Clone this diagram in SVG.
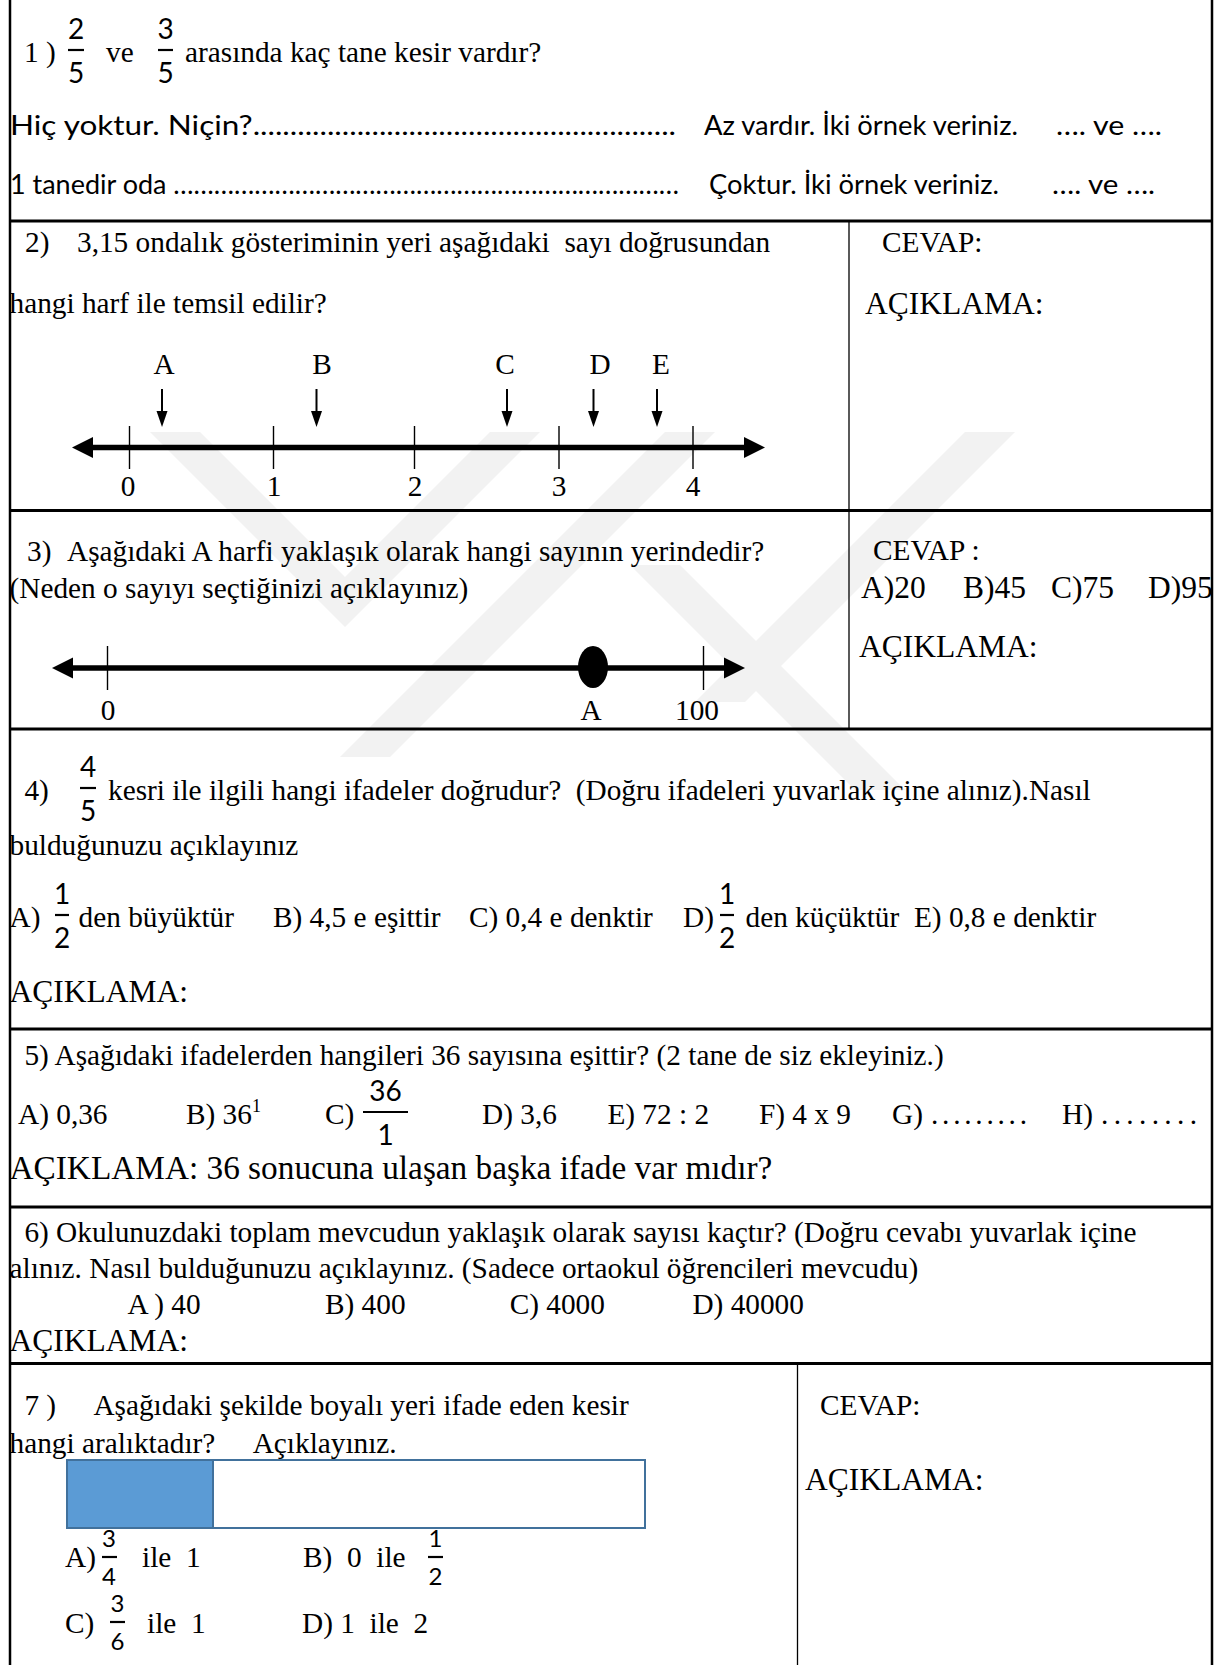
<svg xmlns="http://www.w3.org/2000/svg" width="1219" height="1665" viewBox="0 0 1219 1665" xml:space="preserve">
<style>
text{font-family:"Liberation Serif","Times New Roman",serif;font-size:29.3px;fill:#000;white-space:pre}
.big{font-size:31.5px}
.big2{font-size:33.3px}
.c{font-family:Lato,"Open Sans",sans-serif;font-size:27px}
.f{font-family:Lato,"Open Sans",sans-serif;font-size:28px;text-anchor:middle}
.fs{font-family:Lato,"Open Sans",sans-serif;font-size:24px;text-anchor:middle}
.m{text-anchor:middle}
.frame{stroke:#000;stroke-width:2.5;fill:none}
.sep{stroke:#000;stroke-width:3.2;fill:none}
.div{stroke:#000;stroke-width:1.3;fill:none}
.bar{stroke:#000;stroke-width:2.2}
.tick{stroke:#000;stroke-width:1.4}
.axis{stroke:#000;stroke-width:5.5}
.wm{fill:#f2f2f2}
</style>

<g id="watermark">
<polygon class="wm" points="150,432 200,432 345,577 490,432 540,432 345,627"/>
<polygon class="wm" points="665,432 715,432 390,757 340,757"/>
<polygon class="wm" points="965,432 1015,432 745,702 695,702"/>
<polygon class="wm" points="630,565 680,565 905,790 855,790"/>
</g>

<g id="table">
<line class="frame" x1="10" y1="0" x2="10" y2="1665"/>
<line class="frame" x1="1212" y1="0" x2="1212" y2="1665"/>
<line class="sep" x1="10" y1="221" x2="1212" y2="221"/>
<line class="sep" x1="10" y1="510.5" x2="1212" y2="510.5"/>
<line class="sep" x1="10" y1="729" x2="1212" y2="729"/>
<line class="sep" x1="10" y1="1029" x2="1212" y2="1029"/>
<line class="sep" x1="10" y1="1207" x2="1212" y2="1207"/>
<line class="sep" x1="10" y1="1363.5" x2="1212" y2="1363.5"/>
<line class="div" x1="849" y1="221" x2="849" y2="729"/>
<line class="div" x1="797.5" y1="1363.5" x2="797.5" y2="1665"/>
</g>

<g id="q1">
<text x="24" y="62">1 )</text>
<text class="f" x="76" y="39">2</text>
<line class="bar" x1="68" y1="50" x2="84" y2="50"/>
<text class="f" x="76" y="83">5</text>
<text x="106" y="62">ve</text>
<text class="f" x="165.5" y="39">3</text>
<line class="bar" x1="158" y1="50" x2="173" y2="50"/>
<text class="f" x="165.5" y="83">5</text>
<text x="185" y="62">arasında kaç tane kesir vardır?</text>
<text class="c" x="10" y="135" textLength="666" lengthAdjust="spacingAndGlyphs">Hiç yoktur. Niçin?.........................................................</text>
<text class="c" x="704" y="135" textLength="314" lengthAdjust="spacingAndGlyphs">Az vardır. İki örnek veriniz.</text>
<text class="c" x="1056" y="135" textLength="106" lengthAdjust="spacingAndGlyphs">…. ve ….</text>
<text class="c" x="10" y="194" textLength="669" lengthAdjust="spacingAndGlyphs">1 tanedir oda …………………………………………………………………</text>
<text class="c" x="709" y="194" textLength="290" lengthAdjust="spacingAndGlyphs">Çoktur. İki örnek veriniz.</text>
<text class="c" x="1052" y="194" textLength="103" lengthAdjust="spacingAndGlyphs">…. ve ….</text>
</g>

<g id="q2">
<text x="25" y="252">2)</text>
<text x="77" y="252">3,15 ondalık gösteriminin yeri aşağıdaki  sayı doğrusundan</text>
<text x="9.5" y="313">hangi harf ile temsil edilir?</text>
<text x="882" y="252">CEVAP:</text>
<text class="big" x="865" y="314">AÇIKLAMA:</text>
<text class="m" x="164" y="374">A</text>
<text class="m" x="322" y="374">B</text>
<text class="m" x="505" y="374">C</text>
<text class="m" x="600" y="374">D</text>
<text class="m" x="661" y="374">E</text>
</g>

<g id="q2-numberline">
<line class="axis" x1="88" y1="447.5" x2="750" y2="447.5"/>
<polygon points="72,447.5 93,437 93,458"/>
<polygon points="765,447.5 744,437 744,458"/>
<line class="tick" x1="129.5" y1="426" x2="129.5" y2="469"/>
<line class="tick" x1="273.5" y1="426" x2="273.5" y2="469"/>
<line class="tick" x1="414.5" y1="426" x2="414.5" y2="469"/>
<line class="tick" x1="559" y1="426" x2="559" y2="469"/>
<line class="tick" x1="693" y1="426" x2="693" y2="469"/>
<text class="m" x="128" y="496">0</text>
<text class="m" x="274" y="496">1</text>
<text class="m" x="415" y="496">2</text>
<text class="m" x="559" y="496">3</text>
<text class="m" x="693" y="496">4</text>
</g>

<g id="connectors">
<g stroke="#000" stroke-width="2">
<line x1="162" y1="389" x2="162" y2="414"/>
<line x1="316.5" y1="389" x2="316.5" y2="414"/>
<line x1="507" y1="389" x2="507" y2="414"/>
<line x1="593.5" y1="389" x2="593.5" y2="414"/>
<line x1="657" y1="389" x2="657" y2="414"/>
</g>
<polygon points="156.5,411 167.5,411 162,427"/>
<polygon points="311,411 322,411 316.5,427"/>
<polygon points="501.5,411 512.5,411 507,427"/>
<polygon points="588,411 599,411 593.5,427"/>
<polygon points="651.5,411 662.5,411 657,427"/>
</g>

<g id="q3">
<text x="27" y="561">3)</text>
<text x="67" y="561">Aşağıdaki A harfi yaklaşık olarak hangi sayının yerindedir?</text>
<text x="9.5" y="598">(Neden o sayıyı seçtiğinizi açıklayınız)</text>
<text x="873" y="560">CEVAP :</text>
<text class="big" x="861" y="598">A)20</text>
<text class="big" x="963" y="598">B)45</text>
<text class="big" x="1051" y="598">C)75</text>
<text class="big" x="1148" y="598">D)95</text>
<text class="big" x="859" y="657">AÇIKLAMA:</text>
</g>

<g id="q3-numberline">
<line class="axis" x1="70" y1="668" x2="728" y2="668"/>
<polygon points="52,668 73,657.5 73,678.5"/>
<polygon points="745,668 724,657.5 724,678.5"/>
<line class="tick" x1="107.5" y1="646" x2="107.5" y2="690"/>
<line class="tick" x1="703.5" y1="646" x2="703.5" y2="690"/>
<ellipse cx="593" cy="667" rx="15" ry="21"/>
<text class="m" x="108" y="720">0</text>
<text class="m" x="591" y="720">A</text>
<text class="m" x="697" y="720">100</text>
</g>

<g id="q4">
<text x="24.4" y="800">4)</text>
<text class="f" x="88" y="777">4</text>
<line class="bar" x1="80" y1="788" x2="96" y2="788"/>
<text class="f" x="88" y="821">5</text>
<text x="108" y="800">kesri ile ilgili hangi ifadeler doğrudur?  (Doğru ifadeleri yuvarlak içine alınız).Nasıl</text>
<text x="9.5" y="855">bulduğunuzu açıklayınız</text>
<text x="9.5" y="927">A)</text>
<text class="f" x="62" y="904">1</text>
<line class="bar" x1="55" y1="915" x2="69" y2="915"/>
<text class="f" x="62" y="948">2</text>
<text x="78.6" y="927">den büyüktür</text>
<text x="273" y="927">B) 4,5 e eşittir</text>
<text x="469" y="927">C) 0,4 e denktir</text>
<text x="683" y="927">D)</text>
<text class="f" x="727" y="904">1</text>
<line class="bar" x1="720" y1="915" x2="734" y2="915"/>
<text class="f" x="727" y="948">2</text>
<text x="745.5" y="927">den küçüktür  E) 0,8 e denktir</text>
<text class="big" x="9.5" y="1002">AÇIKLAMA:</text>
</g>

<g id="q5">
<text x="24.4" y="1065">5) Aşağıdaki ifadelerden hangileri 36 sayısına eşittir? (2 tane de siz ekleyiniz.)</text>
<text x="18" y="1123.5">A) 0,36</text>
<text x="186" y="1123.5">B) 36<tspan dy="-12" font-size="18">1</tspan></text>
<text x="325" y="1123.5">C)</text>
<text class="f" x="385.5" y="1101">36</text>
<line class="bar" x1="363" y1="1112" x2="408" y2="1112"/>
<text class="f" x="385.5" y="1145">1</text>
<text x="482" y="1123.5">D) 3,6</text>
<text x="607.4" y="1123.5">E) 72 : 2</text>
<text x="759" y="1123.5">F) 4 x 9</text>
<text x="892" y="1123.5">G)</text>
<text x="931" y="1123.5" textLength="96" lengthAdjust="spacing">.........</text>
<text x="1062" y="1123.5">H)</text>
<text x="1101" y="1123.5" textLength="96" lengthAdjust="spacing">........</text>
<text class="big2" x="9.5" y="1178.7">AÇIKLAMA: 36 sonucuna ulaşan başka ifade var mıdır?</text>
</g>

<g id="q6">
<text x="24.4" y="1242">6) Okulunuzdaki toplam mevcudun yaklaşık olarak sayısı kaçtır? (Doğru cevabı yuvarlak içine</text>
<text x="9.5" y="1277.5">alınız. Nasıl bulduğunuzu açıklayınız. (Sadece ortaokul öğrencileri mevcudu)</text>
<text x="127.4" y="1313.6">A ) 40</text>
<text x="325" y="1313.6">B) 400</text>
<text x="509.7" y="1313.6">C) 4000</text>
<text x="692.4" y="1313.6">D) 40000</text>
<text class="big" x="9.5" y="1350.7">AÇIKLAMA:</text>
</g>

<g id="q7">
<text x="24.4" y="1414.5">7 )</text>
<text x="93.4" y="1414.5">Aşağıdaki şekilde boyalı yeri ifade eden kesir</text>
<text x="9.5" y="1452.7">hangi aralıktadır?</text>
<text x="252.7" y="1452.7">Açıklayınız.</text>
<text x="820" y="1414.5">CEVAP:</text>
<text class="big" x="805" y="1490">AÇIKLAMA:</text>
</g>

<g id="q7-bar">
<rect x="67" y="1460" width="578" height="68" fill="#fff" stroke="#41719C" stroke-width="2"/>
<rect x="67" y="1460" width="146" height="68" fill="#5B9BD5" stroke="#41719C" stroke-width="2"/>
</g>

<g id="q7-options">
<text x="65" y="1567">A)</text>
<text class="fs" x="109" y="1547">3</text>
<line class="bar" x1="102" y1="1557" x2="117" y2="1557"/>
<text class="fs" x="109" y="1585">4</text>
<text x="142" y="1567">ile  1</text>
<text x="303" y="1567">B)  0  ile</text>
<text class="fs" x="435.5" y="1547">1</text>
<line class="bar" x1="428" y1="1557" x2="443" y2="1557"/>
<text class="fs" x="435.5" y="1585">2</text>
<text x="65" y="1632.7">C)</text>
<text class="fs" x="117.5" y="1612">3</text>
<line class="bar" x1="110" y1="1622" x2="125" y2="1622"/>
<text class="fs" x="117.5" y="1650">6</text>
<text x="147" y="1632.7">ile  1</text>
<text x="302" y="1632.7">D) 1  ile  2</text>
</g>
</svg>
